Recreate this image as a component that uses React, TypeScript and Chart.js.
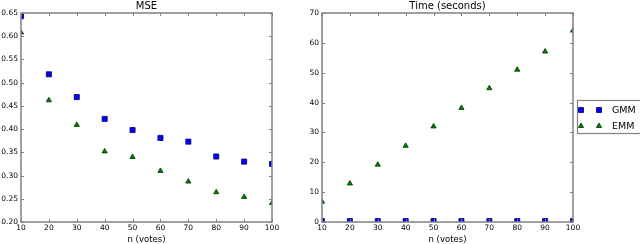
import React, { useEffect, useRef } from "react";
import { Chart, registerables } from "chart.js";

Chart.register(...registerables);

const nVotes = [10, 20, 30, 40, 50, 60, 70, 80, 90, 100];
const mseGMM = [0.643, 0.518, 0.469, 0.422, 0.398, 0.381, 0.373, 0.341, 0.330, 0.325];
const mseEMM = [0.608, 0.462, 0.409, 0.352, 0.340, 0.310, 0.287, 0.264, 0.254, 0.241];
const timeGMM = [0.3, 0.3, 0.3, 0.3, 0.3, 0.3, 0.3, 0.3, 0.3, 0.3];
const timeEMM = [6.8, 12.9, 19.2, 25.5, 32.0, 38.2, 44.8, 51.0, 57.1, 64.1];
const seriesLabels = ["GMM", "EMM"];

const FONT = "'DejaVu Sans', sans-serif";
const FRAME = "#808080";

const toPoints = (ys: number[]) => nVotes.map((x, i) => ({ x, y: ys[i] }));

const framePlugin = (title: string, withLegend: boolean) => ({
  id: "frame" + title.replace(/\W/g, ""),
  afterDraw(chart: any) {
    const { ctx, chartArea: a, scales } = chart;
    ctx.save();
    ctx.strokeStyle = FRAME;
    ctx.lineWidth = 1.5;
    ctx.strokeRect(a.left, a.top, a.right - a.left, a.bottom - a.top);
    ctx.lineWidth = 1;
    const tl = 3;
    ctx.beginPath();
    scales.x.ticks.forEach((t: any) => {
      const px = Math.round(scales.x.getPixelForValue(t.value)) + 0.5;
      ctx.moveTo(px, a.bottom);
      ctx.lineTo(px, a.bottom - tl);
      ctx.moveTo(px, a.top);
      ctx.lineTo(px, a.top + tl);
    });
    scales.y.ticks.forEach((t: any) => {
      const py = Math.round(scales.y.getPixelForValue(t.value)) + 0.5;
      ctx.moveTo(a.left, py);
      ctx.lineTo(a.left + tl, py);
      ctx.moveTo(a.right, py);
      ctx.lineTo(a.right - tl, py);
    });
    ctx.stroke();
    // title
    ctx.fillStyle = "#000";
    ctx.font = `10px ${FONT}`;
    ctx.textAlign = "center";
    ctx.textBaseline = "alphabetic";
    ctx.fillText(title, (a.left + a.right) / 2, 8.5);
    if (withLegend) {
      const lx = a.right + 4;
      const ly = 100;
      const lw = chart.width - lx + 2;
      const lh = 33;
      ctx.fillStyle = "#fff";
      ctx.fillRect(lx, ly, lw, lh);
      ctx.strokeStyle = FRAME;
      ctx.lineWidth = 1.2;
      ctx.strokeRect(lx + 0.5, ly + 0.5, lw, lh);
      const rows = [ly + 10, ly + 26];
      chart.data.datasets.forEach((ds: any, i: number) => {
        const cy = rows[i];
        [lx + 4, lx + 22].forEach((cx) => {
          ctx.fillStyle = ds.backgroundColor;
          ctx.strokeStyle = ds.borderColor;
          ctx.lineWidth = 0.8;
          ctx.beginPath();
          if (ds.pointStyle === "rect") {
            ctx.rect(cx - 2.5, cy - 2.5, 5, 5);
          } else {
            ctx.moveTo(cx, cy - 3);
            ctx.lineTo(cx + 2.6, cy + 1.5);
            ctx.lineTo(cx - 2.6, cy + 1.5);
            ctx.closePath();
          }
          ctx.fill();
          ctx.stroke();
        });
        ctx.fillStyle = "#000";
        ctx.font = `9.5px ${FONT}`;
        ctx.textAlign = "left";
        ctx.textBaseline = "middle";
        ctx.fillText(ds.label, lx + 35, cy + 0.5);
      });
    }
    ctx.restore();
  },
});

function makeConfig(
  title: string,
  gmm: number[],
  emm: number[],
  yMin: number,
  yMax: number,
  yStep: number,
  yDigits: number,
  yWidth: number,
  rightPad: number,
  withLegend: boolean
): any {
  return {
    type: "scatter",
    data: {
      datasets: [
        {
          label: seriesLabels[0],
          data: toPoints(gmm),
          pointStyle: "rect",
          pointRadius: 3.6,
          backgroundColor: "#0000ff",
          borderColor: "#00006a",
          borderWidth: 0.8,
          clip: 0,
        },
        {
          label: seriesLabels[1],
          data: toPoints(emm),
          pointStyle: "triangle",
          pointRadius: 3,
          backgroundColor: "#008000",
          borderColor: "#003300",
          borderWidth: 0.8,
          clip: 0,
        },
      ],
    },
    options: {
      responsive: false,
      animation: false,
      devicePixelRatio: 1,
      layout: { padding: { left: 0, right: rightPad, top: 13, bottom: 0 } },
      plugins: { legend: { display: false }, tooltip: { enabled: false }, title: { display: false } },
      scales: {
        x: {
          type: "linear",
          min: 10,
          max: 100,
          grid: { display: false, drawTicks: false },
          border: { display: false },
          ticks: {
            stepSize: 10,
            color: "#000",
            padding: 2,
            maxRotation: 0,
            font: { family: FONT, size: 7.5 },
          },
          title: {
            display: true,
            text: "n (votes)",
            color: "#000",
            padding: { top: 0, bottom: 0 },
            font: { family: FONT, size: 8.5, lineHeight: 1 },
          },
          afterFit: (s: any) => {
            s.height = 22;
          },
        },
        y: {
          type: "linear",
          min: yMin,
          max: yMax,
          grid: { display: false, drawTicks: false },
          border: { display: false },
          ticks: {
            stepSize: yStep,
            color: "#000",
            padding: 3,
            font: { family: FONT, size: 7.5 },
            callback: (v: number) => v.toFixed(yDigits),
          },
          afterFit: (s: any) => {
            s.width = yWidth;
          },
        },
      },
    },
    plugins: [framePlugin(title, withLegend)],
  };
}

function ChartCanvas({ config, width, height, left }: any) {
  const ref = useRef<HTMLCanvasElement>(null);
  useEffect(() => {
    if (!ref.current) return;
    const chart = new Chart(ref.current, config());
    return () => chart.destroy();
  }, []);
  return (
    <canvas
      ref={ref}
      width={width}
      height={height}
      style={{ position: "absolute", left, top: 0, width, height }}
    />
  );
}

export default function App() {
  return (
    <div style={{ position: "absolute", left: 0, top: 0, width: 640, height: 244, background: "#fff" }}>
      <ChartCanvas
        left={0}
        width={300}
        height={244}
        config={() => makeConfig("MSE", mseGMM, mseEMM, 0.2, 0.65, 0.05, 2, 21, 28, false)}
      />
      <ChartCanvas
        left={300}
        width={340}
        height={244}
        config={() => makeConfig("Time (seconds)", timeGMM, timeEMM, 0, 70, 10, 0, 22, 67, true)}
      />
    </div>
  );
}
